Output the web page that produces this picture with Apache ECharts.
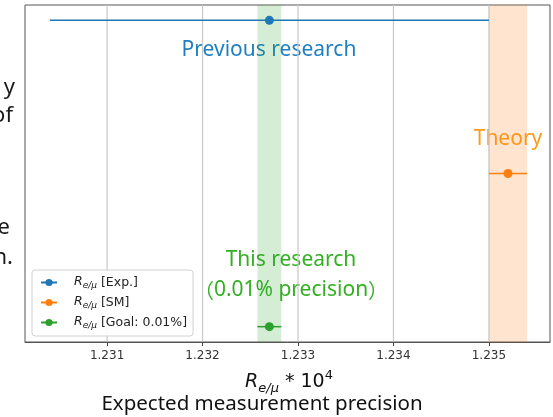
<!DOCTYPE html>
<html>
<head>
<meta charset="utf-8">
<script src="https://cdn.jsdelivr.net/npm/echarts@6/dist/echarts.min.js"></script>
<style>html,body{margin:0;padding:0;background:#fff;}#c{width:553px;height:417px;}</style>
</head>
<body>
<div id="c"></div>
<script>
// ---- data ----
var legendSuffix = ['[Exp.]', '[SM]', '[Goal: 0.01%]'];
var centers = [1.2327, 1.2352, 1.2327];
var errors = [0.0023, 0.0002, 0.000125];
var colors = ['#1f77b4', '#ff7f0e', '#2ca02c'];
var bandColors = ['rgba(255,127,14,0.2)', 'rgba(44,160,44,0.2)'];
var bandRanges = [[1.2350, 1.2354], [1.232575, 1.232825]];
var tickValues = [1.231, 1.232, 1.233, 1.234, 1.235];
var xMin = 1.23014, xMax = 1.23564;

var chart = echarts.init(document.getElementById('c'), null, {renderer: 'canvas'});

var seriesNames = legendSuffix.map(function (s) { return 'R ' + s; });

var series = [];
// vertical grid lines at tick values
series.push({
  type: 'custom',
  silent: true,
  z: 0,
  data: tickValues.map(function (v) { return [v]; }),
  encode: {x: 0},
  renderItem: function (params, api) {
    var cs = params.coordSys;
    var x = api.coord([api.value(0), 0])[0];
    return {
      type: 'line',
      shape: {x1: x, y1: cs.y, x2: x, y2: cs.y + cs.height},
      style: {stroke: '#c8c8c8', lineWidth: 1.2}
    };
  }
});
// shaded bands
series.push({
  type: 'custom',
  silent: true,
  z: 1,
  data: bandRanges.map(function (r) { return [r[0], r[1]]; }),
  encode: {x: [0, 1]},
  renderItem: function (params, api) {
    var cs = params.coordSys;
    var x0 = api.coord([api.value(0), 0])[0];
    var x1 = api.coord([api.value(1), 0])[0];
    return {
      type: 'rect',
      shape: {x: x0, y: cs.y, width: x1 - x0, height: cs.height},
      style: {fill: bandColors[params.dataIndex]}
    };
  }
});
// error bars
series.push({
  type: 'custom',
  silent: true,
  z: 3,
  data: centers.map(function (c, i) { return [c - errors[i], c + errors[i], i]; }),
  encode: {x: [0, 1], y: 2},
  renderItem: function (params, api) {
    var i = params.dataIndex;
    var p0 = api.coord([api.value(0), api.value(2)]);
    var p1 = api.coord([api.value(1), api.value(2)]);
    return {
      type: 'line',
      shape: {x1: p0[0], y1: p0[1], x2: p1[0], y2: p1[1]},
      style: {stroke: colors[i], lineWidth: 1.5}
    };
  }
});
centers.forEach(function (c, i) {
  series.push({
    type: 'line',
    name: seriesNames[i],
    data: [[c, i]],
    symbol: 'circle',
    symbolSize: 9,
    showSymbol: true,
    z: 5,
    itemStyle: {color: colors[i]},
    lineStyle: {color: colors[i], width: 1.5}
  });
});

var font = '"Noto Sans", "Noto Sans CJK JP", sans-serif';
var option = {
  animation: false,
  grid: {left: 25, top: 5, right: 3, bottom: 75, show: true, borderColor: '#555', borderWidth: 1, containLabel: false},
  xAxis: {
    type: 'value',
    min: xMin, max: xMax,
    axisLine: {show: true, onZero: false, lineStyle: {color: '#555', width: 1}},
    splitLine: {show: false},
    axisTick: {show: true, customValues: tickValues, length: 4, lineStyle: {color: '#444', width: 1}},
    axisLabel: {
      customValues: tickValues,
      color: '#333', fontSize: 12, fontFamily: 'DejaVu Sans', margin: 8,
      formatter: function (v) { return v.toFixed(3); }
    }
  },
  yAxis: {
    type: 'value', min: -0.1, max: 2.1, inverse: true, show: false,
    splitLine: {show: false}
  },
  legend: {
    orient: 'vertical',
    left: 32, top: 270,
    itemWidth: 16, itemHeight: 9,
    itemGap: 5,
    padding: [5, 6, 6, 8],
    borderColor: '#d0d0d0', borderWidth: 1, borderRadius: 3,
    backgroundColor: 'rgba(255,255,255,0.9)',
    data: seriesNames,
    formatter: function (name) {
      var i = seriesNames.indexOf(name);
      return '{R|R}{sub|e/μ} {t|' + legendSuffix[i] + '}';
    },
    textStyle: {
      color: '#222', fontFamily: 'DejaVu Sans', fontSize: 12.5, padding: [0, 0, 0, 12],
      rich: {
        R: {fontStyle: 'italic', fontSize: 12.5, fontFamily: 'DejaVu Sans', lineHeight: 15, verticalAlign: 'top'},
        sub: {fontStyle: 'italic', fontSize: 9, fontFamily: 'DejaVu Sans', lineHeight: 15, verticalAlign: 'bottom'},
        t: {fontSize: 12.5, fontFamily: 'DejaVu Sans', lineHeight: 15}
      }
    }
  },
  graphic: [
    {type: 'text', style: {text: 'Previous research', x: 269, y: 50, align: 'center', verticalAlign: 'middle', font: '21px ' + font, fill: '#1f7fc0'}},
    {type: 'text', style: {text: 'Theory', x: 508, y: 139, align: 'center', verticalAlign: 'middle', font: '21px ' + font, fill: '#ff9a1a'}},
    {type: 'text', style: {text: 'This research', x: 291, y: 260, align: 'center', verticalAlign: 'middle', font: '21px ' + font, fill: '#33b022'}},
    {type: 'text', style: {
      text: '{p|（}{t|0.01% precision}{p|）}', x: 291, y: 290, align: 'center', verticalAlign: 'middle', fill: '#33b022',
      rich: {
        p: {fontFamily: '"Noto Sans CJK JP"', fontSize: 20, lineHeight: 26},
        t: {fontFamily: '"Noto Sans"', fontSize: 21, lineHeight: 26}
      }
    }},
    {type: 'text', style: {text: 'y', x: 15, y: 77, align: 'right', verticalAlign: 'alphabetic', font: '22px ' + font, fill: '#1a1a1a'}},
    {type: 'text', style: {text: 'of', x: 13, y: 105, align: 'right', verticalAlign: 'alphabetic', font: '22px ' + font, fill: '#1a1a1a'}},
    {type: 'text', style: {text: 'e', x: 10, y: 217, align: 'right', verticalAlign: 'alphabetic', font: '22px ' + font, fill: '#1a1a1a'}},
    {type: 'text', style: {text: 'n.', x: 13, y: 247, align: 'right', verticalAlign: 'alphabetic', font: '22px ' + font, fill: '#1a1a1a'}},
    {type: 'text', style: {
      text: '{R|R}{sub|e/μ}{n| * 10}{sup|4}', x: 289, y: 382, align: 'center', verticalAlign: 'middle',
      fill: '#111',
      rich: {
        R: {fontStyle: 'italic', fontSize: 19, fontFamily: 'DejaVu Sans', lineHeight: 26, verticalAlign: 'middle'},
        sub: {fontStyle: 'italic', fontSize: 13, fontFamily: 'DejaVu Sans', lineHeight: 26, verticalAlign: 'bottom'},
        n: {fontSize: 19, fontFamily: 'DejaVu Sans', lineHeight: 26, verticalAlign: 'middle'},
        sup: {fontSize: 13, fontFamily: 'DejaVu Sans', lineHeight: 26, verticalAlign: 'top'}
      }
    }},
    {type: 'text', style: {text: 'Expected measurement precision', x: 262, y: 404, align: 'center', verticalAlign: 'middle', font: '20.5px ' + font, fill: '#111'}}
  ],
  series: series
};
chart.setOption(option);
</script>
</body>
</html>
